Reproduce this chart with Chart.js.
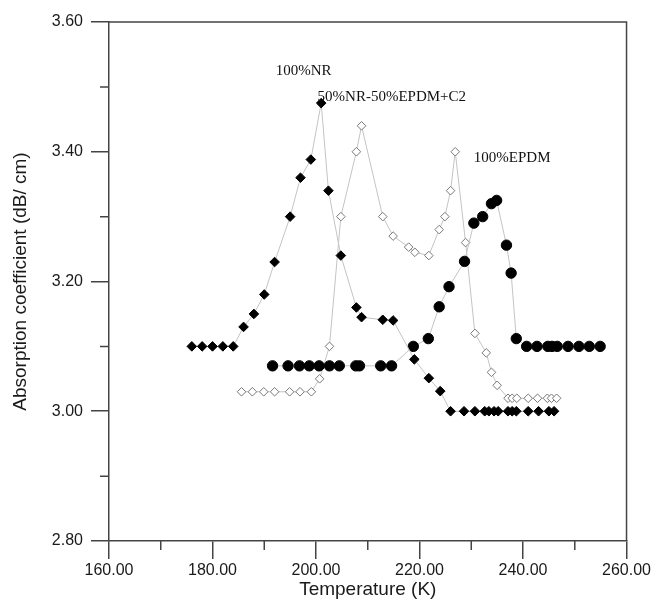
<!DOCTYPE html>
<html>
<head>
<meta charset="utf-8">
<script src="https://cdn.jsdelivr.net/npm/chart.js@4"></script>
<style>
  html, body { margin: 0; padding: 0; background: #fff; }
  #wrap { width: 653px; height: 605px; }
</style>
</head>
<body>
<div id="wrap"><canvas id="absChart"></canvas></div>
<script>
// 100%NR (filled diamonds)
const nrTemp = [176, 178, 180, 182, 184, 186, 188, 190, 192, 195, 197, 199, 201, 202.4, 204.8, 207.8, 208.8, 212.9, 214.9, 219, 221.8, 224, 226, 228.6, 230.7, 232.6, 233.4, 234.4, 235.2, 237.1, 237.9, 238.7, 241, 243, 245, 246];
const nrAbs = [3.10, 3.10, 3.10, 3.10, 3.10, 3.13, 3.15, 3.18, 3.23, 3.30, 3.36, 3.388, 3.475, 3.34, 3.24, 3.16, 3.145, 3.141, 3.14, 3.08, 3.051, 3.031, 3.00, 3.00, 3.00, 3.00, 3.00, 3.00, 3.00, 3.00, 3.00, 3.00, 3.00, 3.00, 3.00, 3.00];

// 100%EPDM (filled circles)
const epdmTemp = [191.6, 194.6, 196.8, 198.7, 200.6, 202.6, 204.5, 207.7, 208.4, 212.5, 214.6, 218.8, 221.7, 223.8, 225.7, 228.7, 230.5, 232.2, 233.9, 234.9, 236.8, 237.7, 238.7, 240.7, 242.7, 244.8, 245.6, 246.6, 248.7, 250.8, 252.8, 254.9];
const epdmAbs = [3.07, 3.07, 3.07, 3.07, 3.07, 3.07, 3.07, 3.07, 3.07, 3.07, 3.07, 3.10, 3.112, 3.161, 3.192, 3.231, 3.29, 3.30, 3.32, 3.325, 3.256, 3.213, 3.112, 3.10, 3.10, 3.10, 3.10, 3.10, 3.10, 3.10, 3.10, 3.10];

// 50%NR-50%EPDM+C2 (open diamonds)
const blendTemp = [185.6, 187.7, 189.9, 192.0, 194.9, 196.9, 199.1, 200.7, 202.6, 204.8, 207.8, 208.8, 212.9, 214.9, 217.9, 219.1, 221.8, 223.8, 224.9, 226.0, 226.9, 228.9, 230.7, 232.9, 233.9, 235.0, 237.1, 237.9, 238.8, 241.0, 242.8, 244.7, 245.5, 246.5];
const blendAbs = [3.03, 3.03, 3.03, 3.03, 3.03, 3.03, 3.03, 3.05, 3.10, 3.30, 3.40, 3.44, 3.30, 3.27, 3.253, 3.245, 3.24, 3.28, 3.30, 3.34, 3.40, 3.26, 3.12, 3.09, 3.06, 3.04, 3.02, 3.02, 3.02, 3.02, 3.02, 3.02, 3.02, 3.02];

const xTicksMinor = [170, 190, 210, 230, 250];
const yTicksMinor = [2.9, 3.1, 3.3, 3.5];

// text labels placed in data coordinates (left edge, middle)
const seriesLabels = [
    { text: '100%NR', x: 192.2, y: 3.524 },
    { text: '50%NR-50%EPDM+C2', x: 200.3, y: 3.484 },
    { text: '100%EPDM', x: 230.5, y: 3.39 }
];

function pts(xs, ys) {
    return xs.map(function(t, i) { return { x: t, y: ys[i] }; });
}

const frameAndMinor = {
    id: 'frameAndMinor',
    afterDraw(chart) {
        const c = chart.ctx;
        const a = chart.chartArea;
        const xs = chart.scales.x, ys = chart.scales.y;
        c.save();
        c.strokeStyle = '#444';
        c.lineWidth = 1.5;
        c.beginPath();
        c.moveTo(a.left, a.top);
        c.lineTo(a.right, a.top);
        c.lineTo(a.right, a.bottom);
        c.stroke();
        c.beginPath();
        xTicksMinor.forEach(function(v) {
            const px = xs.getPixelForValue(v);
            c.moveTo(px, a.bottom);
            c.lineTo(px, a.bottom + 9);
        });
        yTicksMinor.forEach(function(v) {
            const py = ys.getPixelForValue(v);
            c.moveTo(a.left, py);
            c.lineTo(a.left - 9, py);
        });
        c.stroke();
        c.fillStyle = '#111';
        c.font = '15px "Liberation Serif", "Times New Roman", serif';
        c.textBaseline = 'middle';
        c.textAlign = 'left';
        seriesLabels.forEach(function(l) {
            c.fillText(l.text, xs.getPixelForValue(l.x), ys.getPixelForValue(l.y));
        });
        c.restore();
    }
};

document.addEventListener('DOMContentLoaded', function() {
    const ctx = document.getElementById('absChart');
    new Chart(ctx, {
        type: 'scatter',
        data: {
            datasets: [
                {
                    label: '100%NR',
                    data: pts(nrTemp, nrAbs),
                    showLine: true,
                    borderColor: '#c4c4c4',
                    borderWidth: 1,
                    pointStyle: 'rectRot',
                    pointRadius: 4.8,
                    pointBackgroundColor: '#000',
                    pointBorderColor: '#000',
                    pointBorderWidth: 1
                },
                {
                    label: '100%EPDM',
                    data: pts(epdmTemp, epdmAbs),
                    showLine: true,
                    borderColor: '#c4c4c4',
                    borderWidth: 1,
                    pointStyle: 'circle',
                    pointRadius: 5.2,
                    pointBackgroundColor: '#000',
                    pointBorderColor: '#000',
                    pointBorderWidth: 1
                },
                {
                    label: '50%NR-50%EPDM+C2',
                    data: pts(blendTemp, blendAbs),
                    showLine: true,
                    borderColor: '#c4c4c4',
                    borderWidth: 1,
                    pointStyle: 'rectRot',
                    pointRadius: 4.3,
                    pointBackgroundColor: '#fff',
                    pointBorderColor: '#777',
                    pointBorderWidth: 1
                }
            ]
        },
        options: {
            responsive: true,
            maintainAspectRatio: false,
            animation: false,
            layout: { padding: { top: 22, right: 25, left: 0, bottom: 0 } },
            plugins: {
                legend: { display: false },
                tooltip: { enabled: false }
            },
            scales: {
                x: {
                    type: 'linear',
                    min: 160,
                    max: 260,
                    afterFit: function(s) { s.height = 64; },
                    border: { color: '#444', width: 1.5 },
                    grid: { drawOnChartArea: false, tickLength: 18, color: '#444', lineWidth: 1.5 },
                    ticks: {
                        stepSize: 20,
                        padding: 2,
                        color: '#1a1a1a',
                        font: { family: '"Liberation Sans", Arial, sans-serif', size: 16 },
                        callback: function(v) { return v.toFixed(2); }
                    },
                    title: {
                        display: true,
                        text: 'Temperature (K)',
                        color: '#1a1a1a',
                        padding: { top: 0, bottom: 4 },
                        font: { family: '"Liberation Sans", Arial, sans-serif', size: 19 }
                    }
                },
                y: {
                    min: 2.8,
                    max: 3.6,
                    afterFit: function(s) { s.width = 109; },
                    border: { color: '#444', width: 1.5 },
                    grid: { drawOnChartArea: false, tickLength: 18, color: '#444', lineWidth: 1.5 },
                    ticks: {
                        stepSize: 0.2,
                        padding: 8,
                        color: '#1a1a1a',
                        font: { family: '"Liberation Sans", Arial, sans-serif', size: 16 },
                        callback: function(v) { return v.toFixed(2); }
                    },
                    title: {
                        display: true,
                        text: 'Absorption coefficient (dB/ cm)',
                        color: '#1a1a1a',
                        padding: { top: 9, bottom: 0 },
                        font: { family: '"Liberation Sans", Arial, sans-serif', size: 19 }
                    }
                }
            }
        },
        plugins: [frameAndMinor]
    });
});
</script>
</body>
</html>
